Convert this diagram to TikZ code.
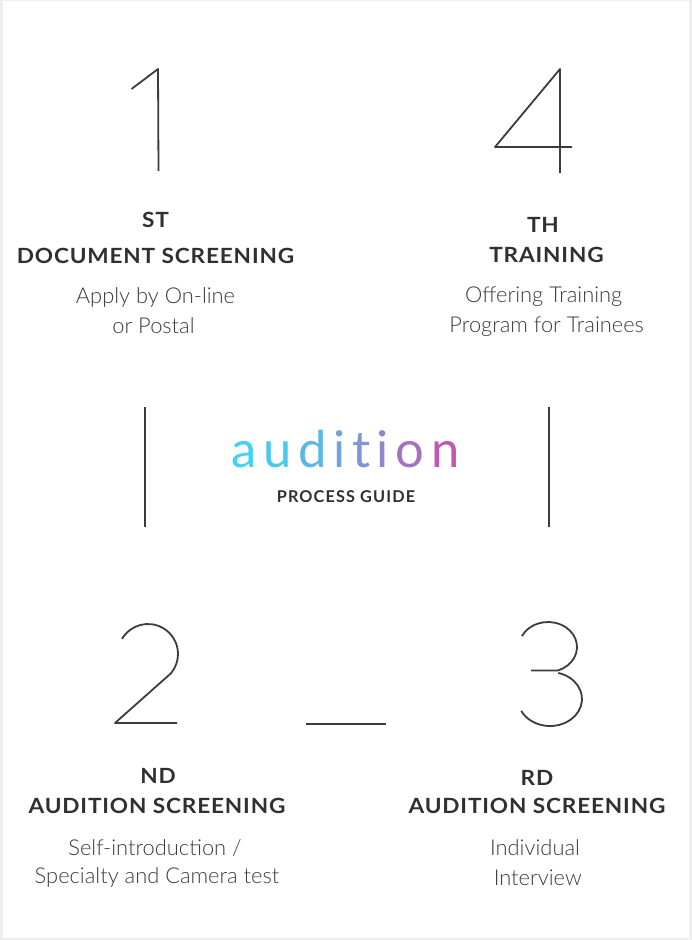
\documentclass[tikz,border=0pt]{standalone}
\usepackage{fontspec}
\usepackage{xcolor}
\usetikzlibrary{calc}
\setmainfont{Lato}
\newfontfamily\headfont[LetterSpace=4, FakeStretch=1.08]{Lato}
\newfontfamily\bodyfont{Lato Light}
\newfontfamily\wordfont{Lato}
\newfontfamily\guidefont[LetterSpace=7]{Lato}
\definecolor{inkgrey}{HTML}{3C3C3C}
\definecolor{headgrey}{HTML}{303030}
\definecolor{framegrey}{HTML}{EFEFEF}
\definecolor{audcyan}{HTML}{3FD3F4}
\definecolor{audmagenta}{HTML}{C355B5}
\newcommand\gradchar[2]{\textcolor{audcyan!#1!audmagenta}{#2}}
\newcommand\gradgap{\kern5pt}

\begin{document}
\begin{tikzpicture}[x=0.75pt, y=-0.75pt,
        numeral/.style = {draw=inkgrey, line width=1.35pt, line join=round},
        rulebar/.style = {draw=inkgrey, line width=1.1pt},
        heading/.style = {anchor=base, inner sep=0pt, text=headgrey, font=\headfont\bfseries\fontsize{15.7}{19}\selectfont},
        desc/.style = {anchor=base, inner sep=0pt, text=inkgrey, font=\bodyfont\fontsize{16.4}{19}\selectfont}]
        % frame
        \fill[framegrey] (0,0) rectangle (692,940);
        \fill[white] (3,1) rectangle (689,938);

        % step 1
        \draw[numeral] (131.5,89) -- (158,69) -- (158.5,171);
        \node(step1sfx) [heading] at (155.5,227) {ST};
        \node(step1title) [heading] at (155.5,263) {DOCUMENT SCREENING};
        \node(step1lineA) [desc] at (155.5,303) {Apply by On-line};
        \node(step1lineB) [desc] at (153.5,333) {or Postal};

        % step 4
        \draw[numeral] (572,147) -- (495,147) -- (560,69) -- (560,173);
        \node(step4sfx) [heading] at (543,232) {TH};
        \node(step4title) [heading] at (546.5,262) {TRAINING};
        \node(step4lineA) [desc] at (543.7,302) {Offering Training};
        \node(step4lineB) [desc] at (546.7,332) {Program for Trainees};

        % centre title
        \draw[rulebar] (145,407) -- (145,527);
        \draw[rulebar] (549,407) -- (549,527);
        \node(word) [anchor=base, inner sep=0pt, font=\wordfont\fontsize{38}{40}\selectfont] at (345.5,467)
            {\gradchar{100}{a}\gradgap\gradchar{92}{u}\gradgap\gradchar{78}{d}\gradgap\gradchar{62}{i}\gradgap\gradchar{50}{t}\gradgap\gradchar{38}{i}\gradgap\gradchar{22}{o}\gradgap\gradchar{0}{n}};
        \node(guide) [anchor=base, inner sep=0pt, text=headgrey, font=\guidefont\bfseries\fontsize{12.2}{14}\selectfont] at (346,502) {PROCESS GUIDE};

        % step 2
        \coordinate (two) at (148,654);
        \draw[numeral] ($(two)+(210:30)$) arc[start angle=210, end angle=400, radius=30] -- (115,723) -- (177,723);
        \node(step2sfx) [heading] at (158,783) {ND};
        \node(step2title) [heading] at (157,813) {AUDITION SCREENING};
        \node(step2lineA) [desc] at (155,855) {Self-introduction /};
        \node(step2lineB) [desc] at (157,883) {Specialty and Camera test};

        % dash between 2 and 3
        \draw[rulebar] (306,724) -- (386,724);

        % step 3
        \coordinate (threeUp) at (548,647);
        \coordinate (threeLow) at (550,699);
        \draw[numeral] ($(threeUp)+(206:29 and 25)$) arc[start angle=206, end angle=430, x radius=29, y radius=25] -- (531,670.5);
        \draw[numeral] ($(threeLow)+(285:32 and 27)$) arc[start angle=285, end angle=514, x radius=32, y radius=27];
        \node(step3sfx) [heading] at (537,785) {RD};
        \node(step3title) [heading] at (537,813) {AUDITION SCREENING};
        \node(step3lineA) [desc] at (535,855) {Individual};
        \node(step3lineB) [desc] at (537.7,885) {Interview};
\end{tikzpicture}
\end{document}
